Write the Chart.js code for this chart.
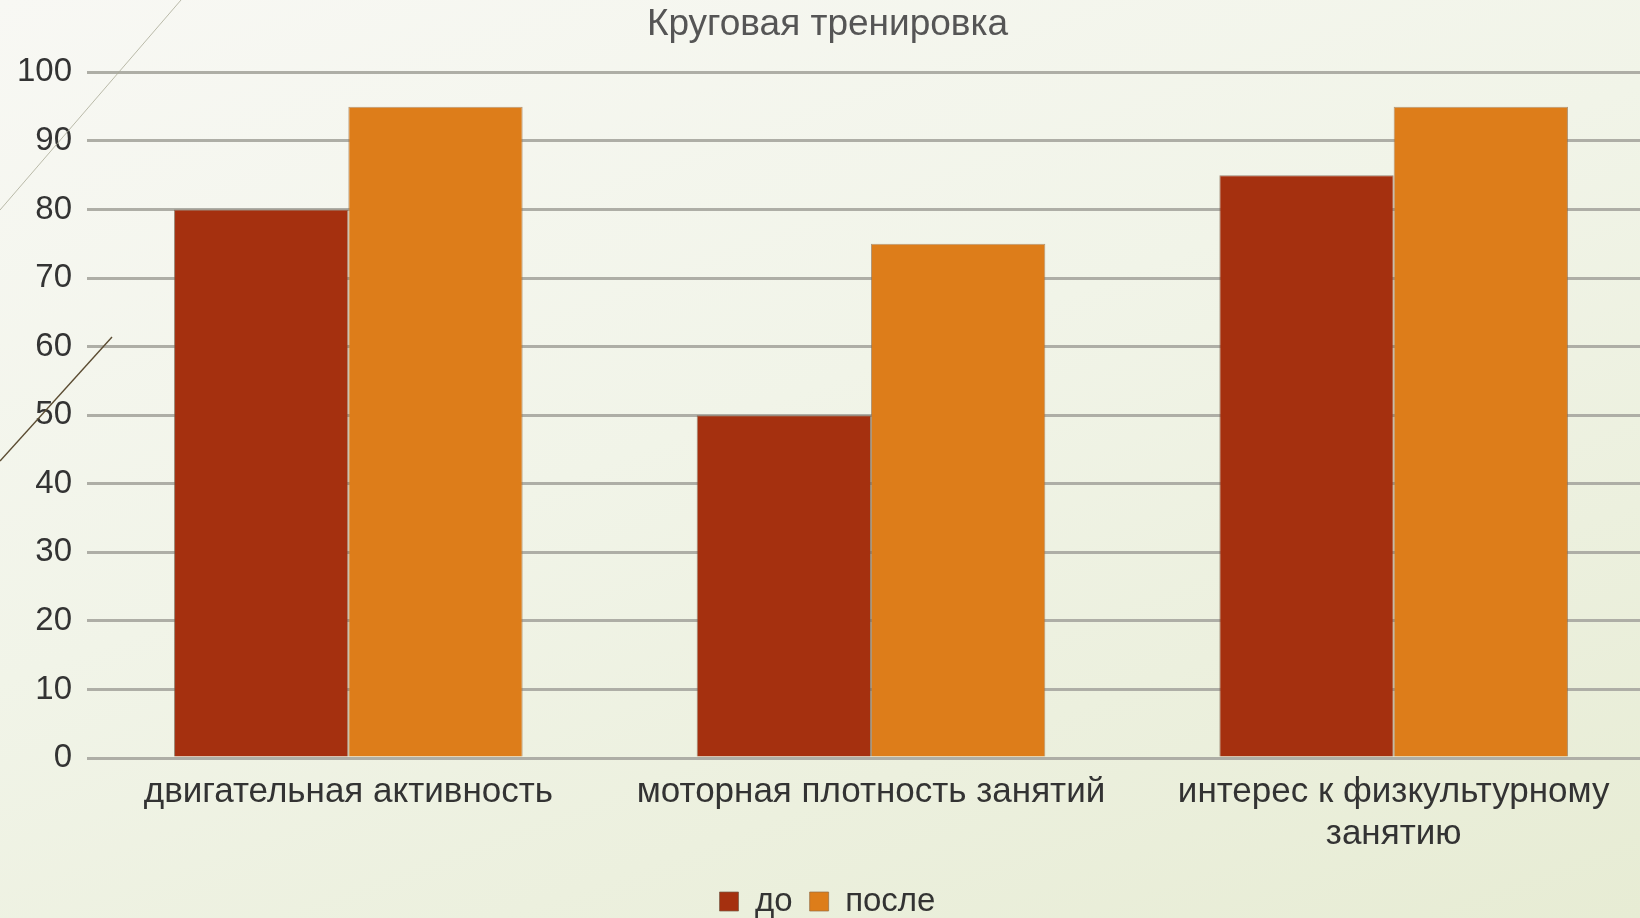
<!DOCTYPE html>
<html lang="ru">
<head>
<meta charset="utf-8">
<title>Круговая тренировка</title>
<script src="https://cdn.jsdelivr.net/npm/chart.js@4/dist/chart.umd.min.js"></script>
<style>
  html, body { margin: 0; padding: 0; overflow: hidden; width: 1640px; height: 918px; }
  body { background: linear-gradient(160deg, #f8f8f4 0%, #f1f4e8 45%, #e7ecd4 100%); }
  #wrap { position: absolute; left: 0; top: 0; width: 1655px; height: 918px; }
</style>
</head>
<body>
<div id="wrap"><canvas id="chart" width="1655" height="918"></canvas></div>
<script>
// данные диаграммы
const categories = [
  "двигательная активность",
  "моторная плотность занятий",
  ["интерес к физкультурному", "занятию"]
];
const seriesNames = ["до", "после"];
const valuesBefore = [80, 50, 85];
const valuesAfter = [95, 75, 95];
const yTicks = [0, 10, 20, 30, 40, 50, 60, 70, 80, 90, 100];

const FONT = "'Liberation Sans', Arial, sans-serif";

// тонкие декоративные линии слева сверху
const decoLines = {
  id: "decoLines",
  afterDraw(chart) {
    const c = chart.ctx;
    c.save();
    c.lineWidth = 1;
    c.strokeStyle = "rgba(170,170,150,0.8)";
    c.beginPath();
    c.moveTo(181, 0);
    c.lineTo(0, 210);
    c.stroke();
    c.lineWidth = 1.4;
    c.strokeStyle = "#5b4c32";
    c.beginPath();
    c.moveTo(112, 337);
    c.lineTo(0, 461);
    c.stroke();
    c.restore();
  }
};

new Chart(document.getElementById("chart"), {
  type: "bar",
  data: {
    labels: categories,
    datasets: [
      {
        label: seriesNames[0],
        data: valuesBefore,
        backgroundColor: "#a5300f",
        borderColor: "rgba(120,90,70,0.7)",
        borderWidth: 1
      },
      {
        label: seriesNames[1],
        data: valuesAfter,
        backgroundColor: "#dd7d1a",
        borderColor: "rgba(150,110,70,0.7)",
        borderWidth: 1
      }
    ]
  },
  options: {
    responsive: false,
    animation: false,
    devicePixelRatio: 1,
    layout: { padding: { left: 0, right: 0, top: 0, bottom: -10 } },
    datasets: { bar: { categoryPercentage: 0.667, barPercentage: 1 } },
    plugins: {
      title: {
        display: true,
        text: "Круговая тренировка",
        color: "#555555",
        font: { family: FONT, size: 37, weight: "normal" },
        padding: { top: 3, bottom: 25 }
      },
      legend: {
        position: "bottom",
        labels: {
          color: "#333333",
          font: { family: FONT, size: 33 },
          boxWidth: 19,
          boxHeight: 19,
          padding: 17
        }
      },
      tooltip: { enabled: false }
    },
    scales: {
      x: {
        grid: { display: false, drawTicks: false },
        border: { display: false },
        ticks: {
          color: "#333333",
          font: { family: FONT, size: 35, lineHeight: 1.2 },
          maxRotation: 0,
          autoSkip: false,
          padding: 13
        }
      },
      y: {
        min: 0,
        max: 100,
        afterFit(scale) { scale.width = 87; },
        afterBuildTicks(scale) { scale.ticks = yTicks.map(v => ({ value: v })); },
        grid: { color: "#aeaea6", lineWidth: 3, drawTicks: false },
        border: { display: false },
        ticks: {
          color: "#333333",
          font: { family: FONT, size: 33 },
          padding: 15
        }
      }
    }
  },
  plugins: [decoLines]
});
</script>
</body>
</html>
